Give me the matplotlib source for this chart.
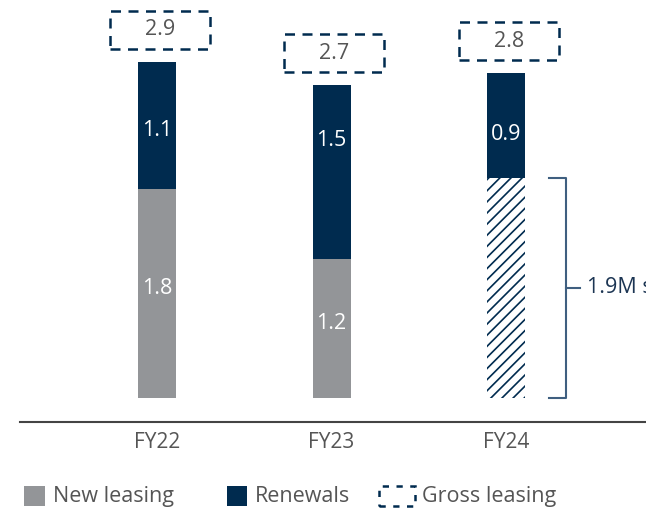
import matplotlib.pyplot as plt
from matplotlib.patches import Rectangle

plt.rcParams['font.family'] = ['Open Sans', 'DejaVu Sans']
plt.rcParams['hatch.linewidth'] = 1.2

years = ['FY22', 'FY23', 'FY24']
new_leasing = [1.8, 1.2, 1.9]
renewals = [1.1, 1.5, 0.9]
gross = [2.9, 2.7, 2.8]
bracket_label = '1.9M sq ft'
legend_labels = ['New leasing', 'Renewals', 'Gross leasing']

navy = '#002b4f'
grey = '#939598'
txt = '#555555'

W, H = 646, 511
fig = plt.figure(figsize=(W / 100, H / 100), dpi=100)
ax = fig.add_axes([0, 0, 1, 1])
ax.set_xlim(-0.9, 2.802)
ax.set_ylim(-0.974, 3.431)
ax.axis('off')

x = list(range(len(years)))
w = 0.218

# new leasing (FY24 shown hatched)
for i in x:
    if i == 2:
        ax.bar(i, new_leasing[i], w, color='white', edgecolor=navy,
               linewidth=0, hatch='///')
    else:
        ax.bar(i, new_leasing[i], w, color=grey)
        ax.text(i, new_leasing[i] / 2 + 0.04, f'{new_leasing[i]:.1f}',
                ha='center', va='center', color='white', fontsize=15.5)

ax.bar(x, renewals, w, bottom=new_leasing, color=navy)
# label nudges so FY23 sits higher in its segment like the original
nudge = [-0.04, 0.27, -0.08]
for i in x:
    ax.text(i, new_leasing[i] + renewals[i] / 2 + nudge[i],
            f'{renewals[i]:.1f}', ha='center', va='center', color='white',
            fontsize=15.5)

# gross leasing dashed boxes
bw, bh, gap = 0.573, 0.328, 0.11
for i in x:
    ax.add_patch(Rectangle((i - bw / 2 + 0.015, gross[i] + gap), bw, bh,
                           fill=False, edgecolor=navy, linewidth=1.8,
                           linestyle=(0, (4, 3)), clip_on=False))
    ax.text(i + 0.015, gross[i] + gap + bh / 2, f'{gross[i]:.1f}',
            ha='center', va='center', color=txt, fontsize=15.5)

# baseline and category labels
ax.axhline(-0.207, xmin=0.031, xmax=1, color='#444444', linewidth=1.5)
for i in x:
    ax.text(i, -0.385, years[i], ha='center', va='center', color=txt,
            fontsize=15)

# bracket for FY24 new leasing
bc = '#3f5f80'
top = new_leasing[2]
ax.plot([2.246, 2.344, 2.344, 2.246], [top, top, 0, 0], color=bc,
        linewidth=1.5, clip_on=False)
ax.plot([2.344, 2.424], [top / 2, top / 2], color=bc, linewidth=1.5)
ax.text(2.464, top / 2, bracket_label, ha='left', va='center',
        color='#1c3553', fontsize=15.5)

# legend drawn by hand (wider dashed key)
ly = (H - 496) / H
keys = [(24, 21, dict(facecolor=grey, edgecolor='none')),
        (227, 20, dict(facecolor=navy, edgecolor='none')),
        (379, 36, dict(fill=False, edgecolor=navy, linewidth=1.8,
                       linestyle=(0, (2.5, 3))))]
text_x = [53, 255, 422]
for (kx, kw, style), tx, lab in zip(keys, text_x, legend_labels):
    fig.add_artist(Rectangle((kx / W, ly - 10 / H), kw / W, 20 / H,
                             transform=fig.transFigure, **style))
    fig.text(tx / W, ly, lab, ha='left', va='center', color=txt,
             fontsize=15.5)

fig.savefig('out.png', dpi=100)
